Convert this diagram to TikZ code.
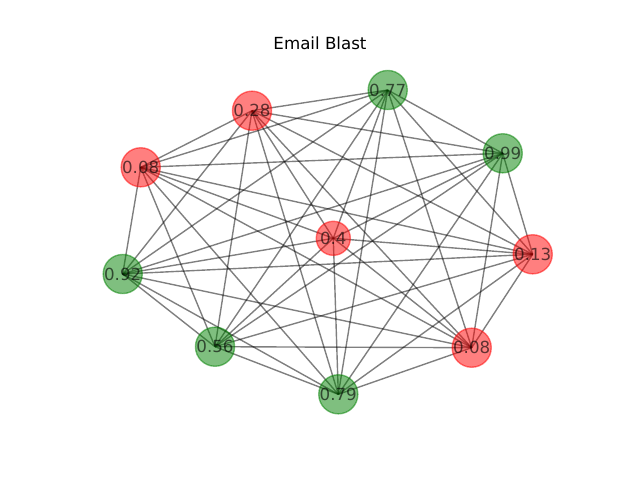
\documentclass[tikz,border=0pt]{standalone}
\usepackage{fontspec}
\setmainfont{DejaVu Sans}
\usetikzlibrary{backgrounds}
\definecolor{mplred}{RGB}{255,0,0}
\definecolor{mplgreen}{RGB}{0,128,0}
\begin{document}
\begin{tikzpicture}[x=0.72pt,y=-0.72pt,
  vtx/.style={circle, minimum size=24.5pt, inner sep=0pt, line width=1pt,
    fill opacity=0.5, draw opacity=0.5, text=black, text opacity=0.62,
    font=\fontsize{12}{14}\selectfont},
  redv/.style={vtx, fill=mplred, draw=mplred},
  greenv/.style={vtx, fill=mplgreen, draw=mplgreen},
  edge/.style={draw=black, draw opacity=0.5, line width=1pt}]
\useasboundingbox (0,0) rectangle (640,480);
\node[font=\fontsize{12}{14}\selectfont] (title) at (320,43) {Email Blast};
\node[greenv] (A) at (387.7,90) {0.77};
\node[redv]   (B) at (252,110.7) {0.28};
\node[greenv] (C) at (502.7,153.3) {0.99};
\node[redv]   (D) at (140.7,167.3) {0.08};
\node[redv]   (E) at (333.3,238.3) {0.4};
\node[redv]   (F) at (532.7,254.3) {0.13};
\node[greenv] (G) at (122.7,274) {0.92};
\node[greenv] (H) at (215,346.7) {0.56};
\node[redv]   (I) at (471.7,347.7) {0.08};
\node[greenv] (J) at (338.3,394.3) {0.79};
\begin{scope}[on background layer]
\foreach \u [count=\i] in {A,B,C,D,E,F,G,H,I,J}{
  \foreach \v [count=\j] in {A,B,C,D,E,F,G,H,I,J}{
    \ifnum\j>\i \draw[edge] (\u.center) -- (\v.center); \fi
  }
}
\end{scope}
\end{tikzpicture}
\end{document}
